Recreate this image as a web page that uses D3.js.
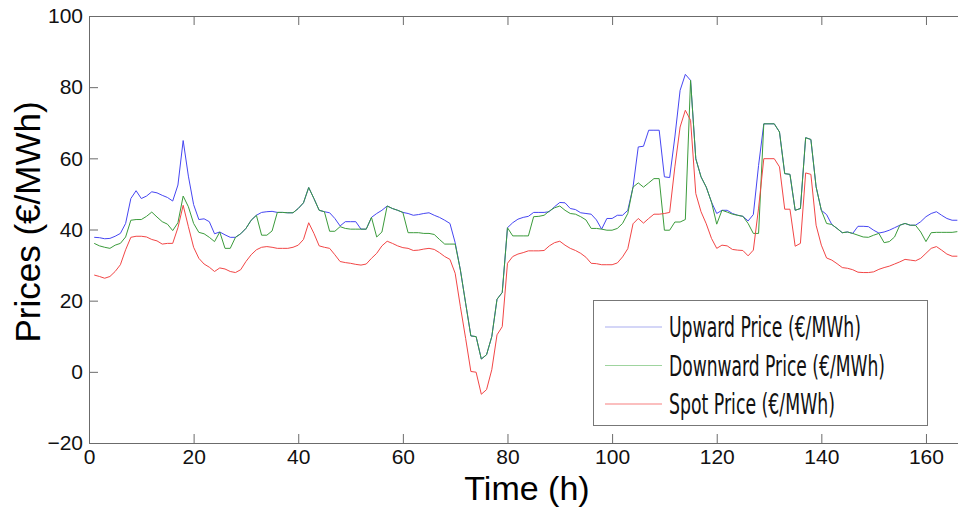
<!DOCTYPE html>
<html>
<head>
<meta charset="utf-8">
<script src="https://cdn.jsdelivr.net/npm/d3@7"></script>
<style>
  body { margin: 0; background: #fff; }
</style>
</head>
<body>
<div id="chart"></div>
<script>
// hourly prices, t = 1..166
var hours = d3.range(1, 167);

var upwardPrice = [
  37.8, 37.7, 37.4, 37.5, 38.1, 38.9, 41.7, 48.7, 50.9, 48.7,
  49.4, 50.6, 50.3, 49.6, 49.0, 48.0, 52.5, 65.0, 55.0, 47.0,
  42.8, 43.0, 42.2, 38.8, 39.3, 38.5, 37.8, 37.8, 38.8, 40.3,
  42.6, 44.0, 44.8, 45.0, 45.1, 44.8, 44.8, 44.7, 44.7, 45.9,
  47.5, 51.8, 48.7, 45.4, 45.0, 44.7, 43.1, 41.0, 42.2, 42.2,
  42.2, 40.1, 40.1, 43.4, 44.5, 45.4, 46.6, 45.9, 45.4, 44.8,
  44.5, 44.0, 44.2, 44.5, 44.7, 44.0, 43.4, 42.6, 41.7, 36.3,
  28.6, 19.3, 10.1, 9.9, 3.6, 4.8, 9.9, 20.4, 22.3, 40.5,
  41.9, 42.9, 43.4, 43.7, 44.8, 44.8, 44.8, 45.0, 46.4, 47.6,
  47.5, 45.9, 45.6, 44.7, 44.5, 44.3, 42.7, 40.1, 43.1, 43.1,
  44.0, 44.0, 45.4, 51.9, 63.2, 63.4, 67.9, 67.9, 67.9, 54.8,
  54.6, 66.0, 79.1, 83.6, 81.9, 59.9, 54.8, 51.9, 47.7, 44.5,
  45.4, 45.4, 44.5, 44.0, 43.7, 42.4, 44.2, 58.0, 69.7, 69.7,
  69.7, 67.4, 55.7, 55.5, 45.4, 45.9, 65.8, 65.3, 52.0, 45.4,
  44.2, 41.4, 40.3, 39.1, 39.3, 38.9, 40.9, 40.9, 40.8, 39.8,
  39.0, 39.3, 39.8, 40.5, 41.2, 41.7, 41.2, 41.2, 42.2, 43.6,
  44.5, 45.0, 44.0, 43.1, 42.6, 42.6
];

var downwardPrice = [
  36.1, 35.4, 35.0, 34.7, 35.6, 36.1, 37.9, 42.6, 42.8, 42.8,
  43.7, 44.9, 43.5, 42.2, 41.5, 39.7, 41.9, 49.4, 46.4, 41.7,
  39.2, 38.8, 37.8, 36.6, 39.3, 34.7, 34.7, 37.8, 38.8, 40.3,
  42.6, 44.0, 38.4, 38.4, 39.6, 44.8, 44.8, 44.7, 44.7, 45.9,
  47.5, 51.8, 48.7, 45.4, 45.0, 39.5, 39.5, 40.8, 40.3, 40.1,
  40.1, 40.1, 40.1, 43.4, 37.9, 39.3, 46.6, 45.9, 45.4, 44.8,
  39.1, 39.1, 39.1, 38.9, 38.9, 38.6, 37.2, 35.9, 35.9, 35.9,
  28.6, 19.3, 10.1, 9.9, 3.6, 4.8, 9.9, 20.4, 22.3, 40.5,
  38.2, 38.2, 38.2, 38.2, 43.6, 43.7, 44.0, 45.2, 46.1, 46.6,
  45.4, 44.5, 44.3, 43.6, 42.7, 40.3, 40.3, 40.1, 39.8, 39.8,
  40.3, 41.7, 44.5, 51.9, 53.1, 51.9, 53.1, 54.3, 54.3, 39.8,
  39.8, 42.1, 42.1, 42.8, 81.9, 59.9, 54.8, 51.9, 47.7, 41.5,
  45.4, 44.9, 44.3, 44.0, 43.7, 41.7, 38.9, 38.9, 69.7, 69.7,
  69.7, 67.4, 55.7, 55.5, 45.4, 45.9, 65.8, 65.3, 52.0, 45.4,
  41.7, 41.4, 40.3, 39.1, 39.3, 38.9, 38.4, 37.9, 37.8, 38.4,
  38.9, 36.3, 36.6, 37.9, 41.2, 41.7, 41.2, 41.2, 39.3, 36.6,
  39.1, 39.2, 39.2, 39.2, 39.2, 39.4
];

var spotPrice = [
  27.2, 26.8, 26.3, 26.8, 28.2, 30.1, 34.3, 37.8, 38.1, 38.1,
  37.9, 37.2, 36.8, 35.9, 36.1, 36.1, 40.5, 46.8, 40.8, 35.0,
  31.9, 30.3, 29.4, 28.2, 29.2, 28.9, 28.2, 27.9, 28.7, 31.0,
  32.9, 34.3, 35.0, 35.2, 35.0, 34.7, 34.7, 34.7, 35.0, 35.6,
  37.2, 41.9, 38.9, 35.4, 35.0, 34.7, 32.9, 31.0, 30.7, 30.5,
  30.2, 30.0, 30.3, 31.9, 33.3, 35.4, 36.7, 36.1, 35.4, 34.9,
  34.7, 34.1, 34.2, 34.5, 34.7, 34.4, 33.5, 32.4, 31.6, 27.7,
  18.3, 9.4, 0.1, -0.1, -6.3, -5.0, 0.6, 10.4, 12.7, 30.5,
  32.4, 33.1, 33.5, 34.0, 34.0, 34.0, 34.1, 35.4, 36.3, 36.7,
  35.6, 34.7, 34.1, 33.3, 32.2, 30.5, 30.4, 30.1, 30.1, 30.1,
  30.6, 32.3, 34.6, 41.6, 43.1, 41.8, 43.1, 44.3, 44.3, 44.5,
  44.8, 57.6, 68.8, 73.5, 70.7, 50.1, 45.0, 41.6, 37.5, 34.7,
  35.6, 35.4, 34.4, 34.2, 34.1, 32.6, 34.2, 46.0, 59.9, 59.9,
  59.9, 57.6, 45.7, 45.7, 35.3, 36.1, 55.9, 55.5, 41.2, 35.6,
  32.0, 31.4, 30.4, 29.3, 29.1, 28.7, 28.0, 27.9, 27.9, 28.1,
  28.8, 29.3, 29.7, 30.3, 30.9, 31.6, 31.4, 31.2, 31.9, 33.3,
  34.7, 35.2, 34.2, 33.1, 32.5, 32.5
];

var xTicks = [0, 20, 40, 60, 80, 100, 120, 140, 160];
var yTicks = [-20, 0, 20, 40, 60, 80, 100];
var seriesNames = ["Upward Price (€/MWh)", "Downward Price (€/MWh)", "Spot Price (€/MWh)"];
var lineColors = ["#4646f2", "#3b9b3b", "#f24646"];
var legendColors = ["#a9aef0", "#9fd49f", "#f88080"];

var width = 958, height = 509;
var margin = { top: 16, left: 89, bottom: 66 };
var plotBottom = height - margin.bottom;

var x = d3.scaleLinear().domain([0, 168]).range([margin.left, margin.left + 168 * 5.231]);
var y = d3.scaleLinear().domain([-20, 100]).range([plotBottom, margin.top]);

var svg = d3.select("#chart").append("svg")
  .attr("width", width)
  .attr("height", height)
  .style("font-family", "'Liberation Sans', Arial, sans-serif");

svg.append("clipPath").attr("id", "plotClip")
  .append("rect")
  .attr("x", margin.left).attr("y", margin.top)
  .attr("width", width - margin.left).attr("height", plotBottom - margin.top);

// axes (MATLAB style: ticks pointing inward)
svg.append("g")
  .attr("transform", "translate(0," + plotBottom + ")")
  .call(d3.axisBottom(x).tickValues(xTicks).tickSizeInner(-9).tickSizeOuter(0).tickPadding(6));

svg.append("g")
  .attr("transform", "translate(0," + margin.top + ")")
  .call(d3.axisTop(x).tickValues(xTicks).tickSizeInner(-9).tickSizeOuter(0).tickFormat(""));

svg.append("g")
  .attr("transform", "translate(" + margin.left + ",0)")
  .call(d3.axisLeft(y).tickValues(yTicks).tickSizeInner(-9).tickSizeOuter(0).tickPadding(6));

svg.selectAll(".domain").attr("stroke", "#6b6b6b");
svg.selectAll(".tick line").attr("stroke", "#6b6b6b");
svg.selectAll(".tick text")
  .attr("fill", "#111")
  .style("font-size", "21px")
  .style("font-family", "'Liberation Sans', Arial, sans-serif");

// series lines, green drawn over blue where they coincide
var allSeries = [upwardPrice, downwardPrice, spotPrice];
var line = d3.line()
  .x(function (d, i) { return x(hours[i]); })
  .y(function (d) { return y(d); });

svg.append("g")
  .attr("clip-path", "url(#plotClip)")
  .selectAll("path")
  .data(allSeries)
  .enter()
  .append("path")
  .attr("d", line)
  .attr("fill", "none")
  .attr("stroke", function (d, i) { return lineColors[i]; })
  .attr("stroke-width", 1);

// axis titles
svg.append("text")
  .attr("x", 527)
  .attr("y", 500)
  .attr("text-anchor", "middle")
  .style("font-size", "34px")
  .attr("fill", "#000")
  .text("Time (h)");

svg.append("text")
  .attr("transform", "translate(40,222) rotate(-90)")
  .attr("text-anchor", "middle")
  .style("font-size", "35px")
  .attr("fill", "#000")
  .text("Prices (€/MWh)");

// legend
var legend = svg.append("g");
legend.append("rect")
  .attr("x", 593.5).attr("y", 300.5)
  .attr("width", 334).attr("height", 125)
  .attr("fill", "#fff")
  .attr("stroke", "#777");

var legendTextWidths = [192, 216, 166];
var rows = legend.selectAll(".row")
  .data(seriesNames)
  .enter()
  .append("g")
  .attr("class", "row")
  .attr("transform", function (d, i) { return "translate(0," + (327 + i * 38.5) + ")"; });

rows.append("line")
  .attr("x1", 605).attr("x2", 662)
  .attr("y1", 0).attr("y2", 0)
  .attr("stroke", function (d, i) { return legendColors[i]; })
  .attr("stroke-width", 1.2);

rows.append("text")
  .attr("transform", "translate(669,10) scale(1,1.15)")
  .attr("textLength", function (d, i) { return legendTextWidths[i]; })
  .attr("lengthAdjust", "spacingAndGlyphs")
  .style("font-family", "'Liberation Sans Narrow', 'DejaVu Sans Condensed', sans-serif")
  .style("font-size", "24px")
  .attr("fill", "#111")
  .text(function (d) { return d; });
</script>
</body>
</html>
